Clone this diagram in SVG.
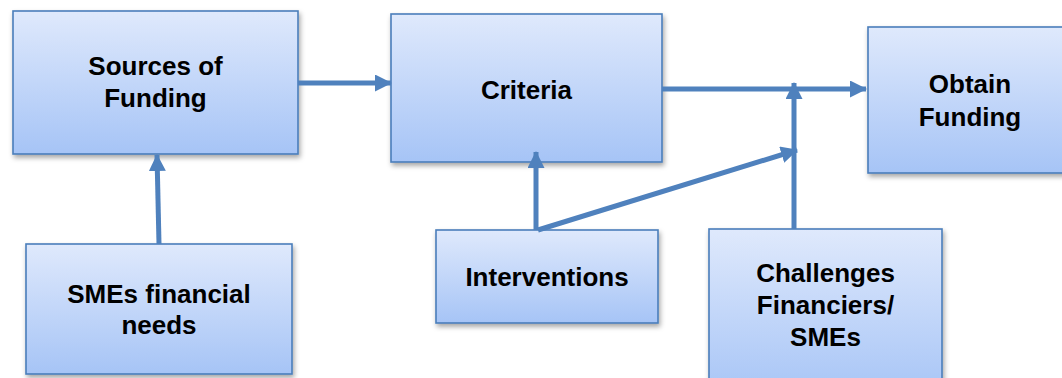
<svg xmlns="http://www.w3.org/2000/svg" width="1062" height="378" viewBox="0 0 1062 378">
  <defs>
    <linearGradient id="boxGrad" x1="0" y1="0" x2="0" y2="1">
      <stop offset="0" stop-color="#dfe9fc"/>
      <stop offset="1" stop-color="#a6c4f6"/>
    </linearGradient>
    <filter id="shadow" x="-10%" y="-10%" width="130%" height="130%">
      <feDropShadow dx="1.5" dy="3" stdDeviation="2.5" flood-color="#000" flood-opacity="0.35"/>
    </filter>
    <marker id="arrow" markerUnits="userSpaceOnUse" markerWidth="17" markerHeight="17" refX="16" refY="8.5" orient="auto">
      <path d="M0,0 L17,8.5 L0,17 z" fill="#4f81bd"/>
    </marker>
  </defs>
  <style>
    .box { fill: url(#boxGrad); stroke: #4a7ebb; stroke-width: 1.6; filter: url(#shadow); }
    .label { font-family: "Liberation Sans", Arial, sans-serif; font-weight: bold; font-size: 26px; fill: #000; text-anchor: middle; }
    .conn { stroke: #4f81bd; stroke-width: 5; fill: none; marker-end: url(#arrow); }
  </style>
  <rect width="1062" height="378" fill="#fff"/>

  <g id="sources">
    <rect class="box" x="13" y="11" width="285" height="143"/>
    <text class="label" x="155.5" y="75">Sources of</text>
    <text class="label" x="155.5" y="107">Funding</text>
  </g>
  <g id="criteria">
    <rect class="box" x="391" y="14" width="271" height="148"/>
    <text class="label" x="526.5" y="99">Criteria</text>
  </g>
  <g id="obtain">
    <rect class="box" x="868" y="27" width="210" height="146"/>
    <text class="label" x="970" y="93">Obtain</text>
    <text class="label" x="970" y="126">Funding</text>
  </g>
  <g id="smes">
    <rect class="box" x="26" y="244" width="266" height="130"/>
    <text class="label" x="159" y="303">SMEs financial</text>
    <text class="label" x="159" y="334">needs</text>
  </g>
  <g id="interventions">
    <rect class="box" x="436" y="230" width="222" height="93"/>
    <text class="label" x="547" y="286">Interventions</text>
  </g>
  <g id="challenges">
    <rect class="box" x="709" y="229" width="233" height="170"/>
    <text class="label" x="825.5" y="282">Challenges</text>
    <text class="label" x="825.5" y="314">Financiers/</text>
    <text class="label" x="825.5" y="346">SMEs</text>
  </g>

  <g id="connectors">
    <line class="conn" x1="298" y1="83" x2="391" y2="83"/>
    <line class="conn" x1="662" y1="89" x2="866" y2="89"/>
    <line class="conn" x1="159" y1="244" x2="157" y2="155"/>
    <line class="conn" x1="536" y1="230" x2="536" y2="152"/>
    <line class="conn" x1="538" y1="230" x2="797" y2="150"/>
    <line class="conn" x1="794" y1="229" x2="794" y2="83"/>
  </g>
</svg>
